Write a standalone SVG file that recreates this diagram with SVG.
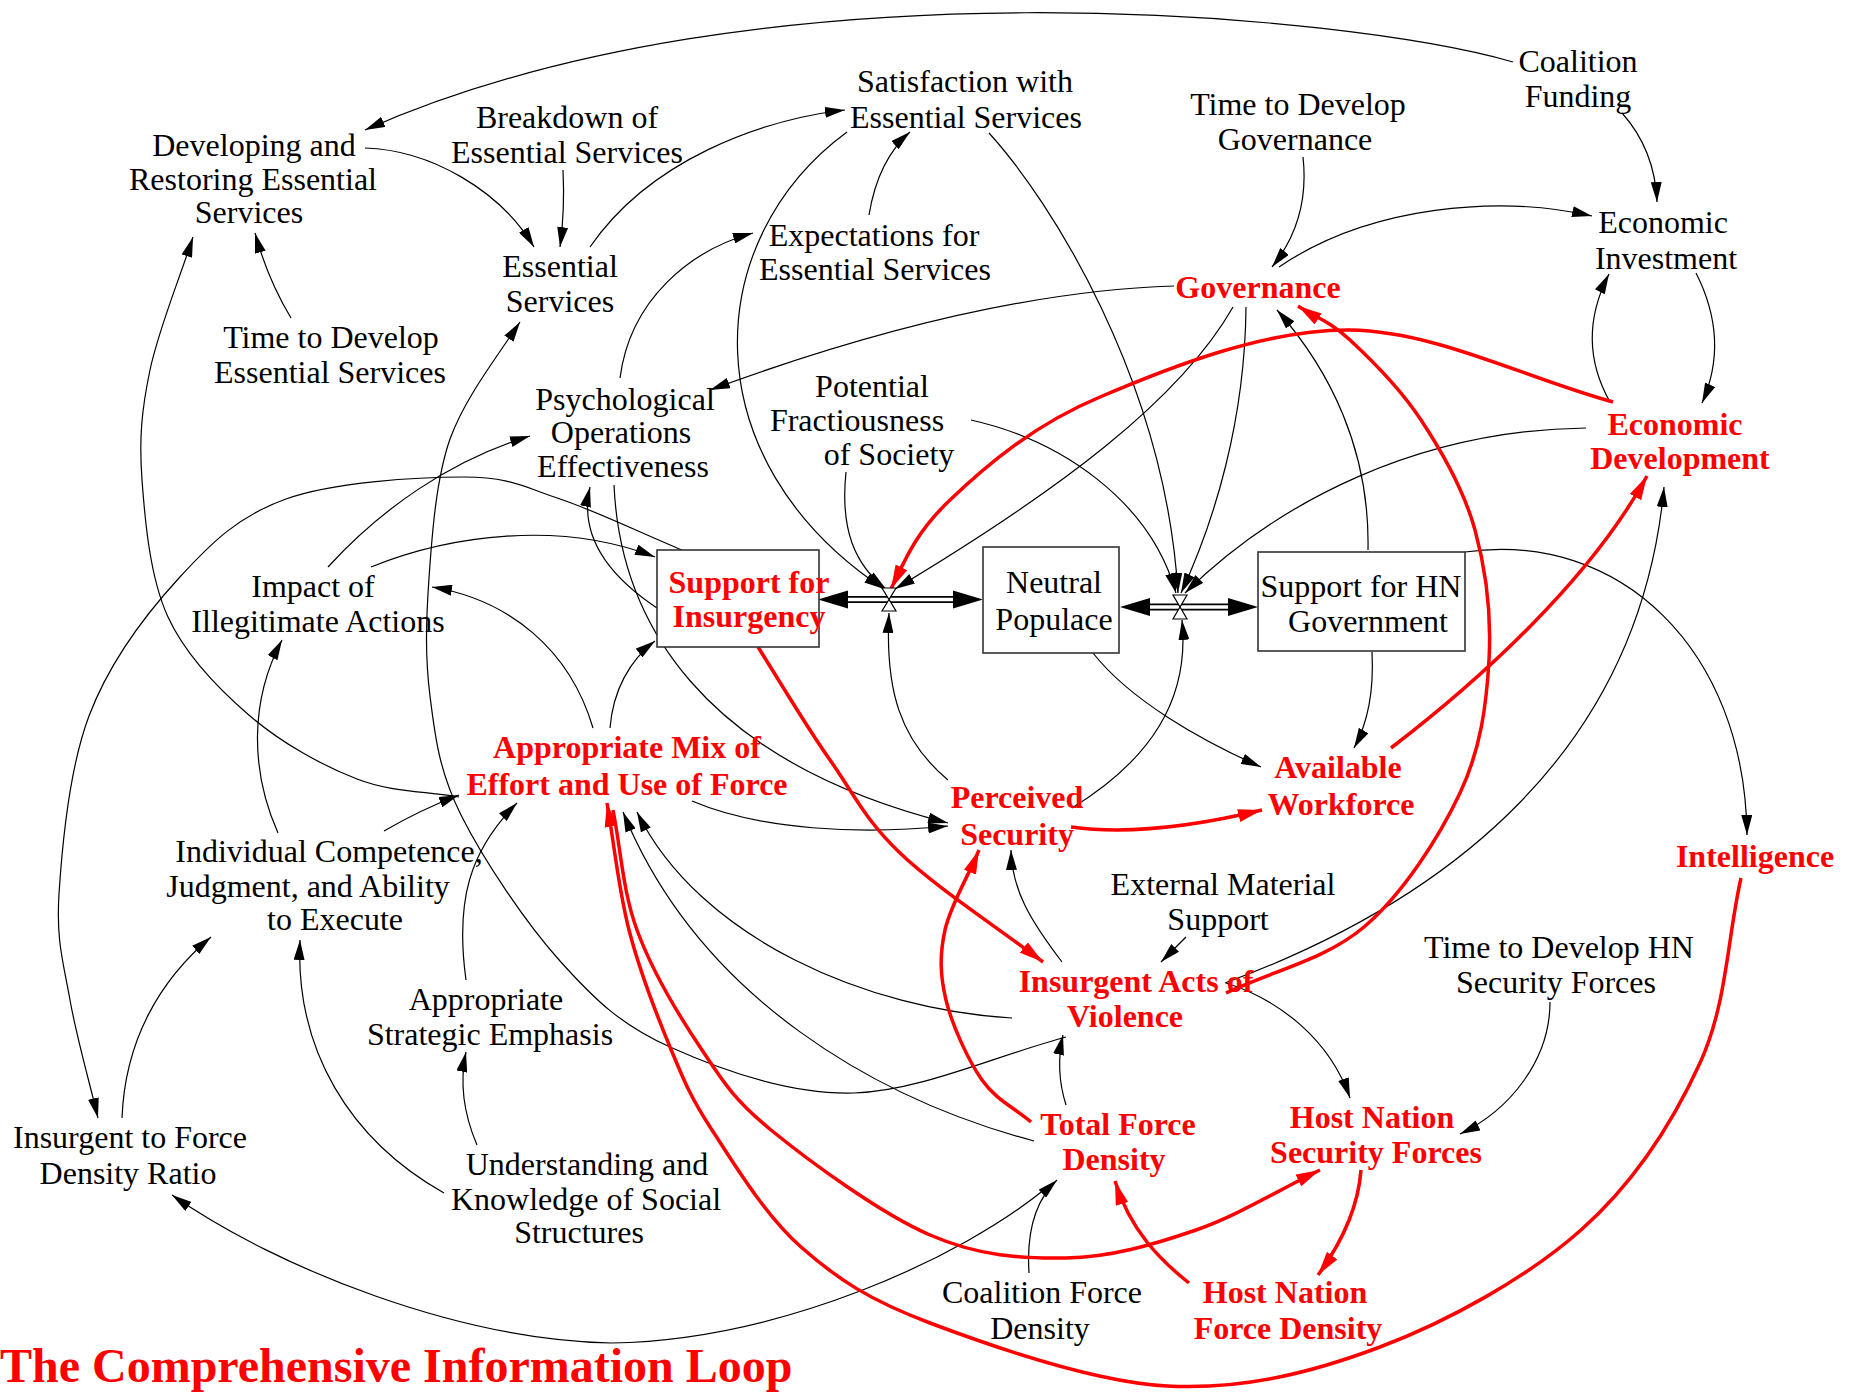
<svg xmlns="http://www.w3.org/2000/svg" width="1858" height="1394" viewBox="0 0 1858 1394">
<defs>
<style>
.t{font-family:'Liberation Serif','Times New Roman',serif;font-size:32px;fill:#000;text-anchor:middle}
.r{font-weight:bold;fill:#f00}
.ttl{font-family:'Liberation Serif','Times New Roman',serif;font-size:48px;font-weight:bold;fill:#f00}
.c{fill:none;stroke:#000;stroke-width:1.2;marker-end:url(#ab)}
.cr{fill:none;stroke:#f00;stroke-width:3.5;marker-end:url(#ar)}
.box{fill:#fff;stroke:#333;stroke-width:1.6}
.pipe{stroke:#000;stroke-width:7}
.pipein{stroke:#fff;stroke-width:3.6}
.valve{fill:#fff;stroke:#000;stroke-width:1.2}
</style>
<marker id="ab" viewBox="0 0 20 11" refX="20" refY="5.5" markerWidth="20" markerHeight="11" markerUnits="userSpaceOnUse" orient="auto"><path d="M0,0 L20,5.5 L0,11 z" fill="#000"/></marker>
<marker id="ar" viewBox="0 0 24 13" refX="24" refY="6.5" markerWidth="24" markerHeight="13" markerUnits="userSpaceOnUse" orient="auto"><path d="M0,0 L24,6.5 L0,13 z" fill="#f00"/></marker>
</defs>
<rect width="1858" height="1394" fill="#fff"/>

<g id="connectors">
<!-- causal links -->
<path class="c" d="M1513,62 C1350,15 760,-45 365,130"/>
<path class="c" d="M1622,113 Q1655,150 1657,202"/>
<path class="c" d="M365,148 C430,150 500,190 534,247"/>
<path class="c" d="M563,170 Q565,210 560,247"/>
<path class="c" d="M590,247 C650,160 760,120 845,110"/>
<path class="c" d="M869,215 Q878,160 910,132"/>
<path class="c" d="M291,318 Q268,280 255,233"/>
<path class="c" d="M1303,157 Q1310,220 1272,267"/>
<path class="c" d="M1279,267 C1370,205 1500,195 1592,216"/>
<path class="c" d="M1696,273 Q1730,340 1702,403"/>
<path class="c" d="M1610,402 Q1575,340 1609,274"/>
<path class="c" d="M1174,286 C1050,290 900,320 710,390"/>
<path class="c" d="M620,378 C630,300 690,250 753,233"/>
<path class="c" d="M989,133 C1050,200 1165,380 1178,593"/>
<path class="c" d="M847,132 C700,240 690,460 884,589"/>
<path class="c" d="M846,472 C840,530 855,565 886,589"/>
<path class="c" d="M971,420 C1060,440 1150,500 1176,593"/>
<path class="c" d="M1233,307 C1180,400 1060,490 895,589"/>
<path class="c" d="M1246,307 C1245,420 1215,520 1181,593"/>
<path class="c" d="M1368,550 C1370,450 1330,370 1277,310"/>
<path class="c" d="M1586,428 C1420,430 1280,500 1185,593"/>
<path class="c" d="M1465,552 C1620,530 1745,650 1747,835"/>
<path class="c" d="M1372,652 Q1375,710 1354,748"/>
<path class="c" d="M1093,653 C1130,700 1200,740 1261,767"/>
<path class="c" d="M1072,808 C1150,760 1190,700 1182,620"/>
<path class="c" d="M948,780 C900,740 885,690 889,613"/>
<path class="c" d="M1062,962 C1030,920 1012,890 1011,850"/>
<path class="c" d="M1186,937 L1161,962"/>
<path class="c" d="M1226,983 C1280,1000 1330,1040 1350,1098"/>
<path class="c" d="M1550,1002 C1550,1060 1510,1110 1460,1134"/>
<path class="c" d="M1225,983 C1450,900 1640,750 1664,487"/>
<path class="c" d="M1012,1018 C870,1010 700,940 637,812"/>
<path class="c" d="M1034,1141 C880,1100 700,1000 623,812"/>
<path class="c" d="M1066,1105 Q1055,1070 1063,1035"/>
<path class="c" d="M1066,1037 C995,1056 920,1091 854,1093 C788,1095 719,1069 670,1047 C621,1025 595,1000 560,961 C525,922 483,859 461,815 C439,771 435,736 430,696 C425,657 426,621 429,578 C432,535 436,479 450,439 C464.5,399 494,361 520,322"/>
<path class="c" d="M614,485 C620,620 700,760 948,823"/>
<path class="c" d="M692,801 C760,830 860,835 948,826"/>
<path class="c" d="M682,550 C641,533 596,511 560,499 C524,487 510,477 464,477 C418,477 333.5,482 286,499 C238.5,516 212,542 179,578 C146,614 109,663 89,716 C69,769 62,847 59,894 C56,941 63.5,963 70,1000 C76.5,1037 88.7,1079 98,1118"/>
<path class="c" d="M122,1118 C125,1040 160,980 211,937"/>
<path class="c" d="M1050,1185 C960,1260 780,1340 611,1343 C460,1340 280,1270 172,1195"/>
<path class="c" d="M1029,1273 Q1025,1210 1057,1180"/>
<path class="c" d="M278,833 C250,770 250,700 282,640"/>
<path class="c" d="M384,831 Q420,810 459,795"/>
<path class="c" d="M459,797 C425,791 392,792.5 357,779 C322,765.5 281.5,743 250,716 C218.5,689 186,656 168,617 C150,578 145,521 142,480 C139,439 141.5,410.5 150,370 C158.5,329.5 178.7,281 193,237"/>
<path class="c" d="M466,980 C455,900 470,850 517,803"/>
<path class="c" d="M477,1145 C462,1110 460,1080 466,1052"/>
<path class="c" d="M444,1193 C350,1140 295,1050 300,940"/>
<path class="c" d="M328,567 C380,510 450,460 530,436"/>
<path class="c" d="M371,567 C450,535 560,520 655,557"/>
<path class="c" d="M593,728 C570,650 510,600 432,587"/>
<path class="c" d="M610,728 C613,690 630,660 655,641"/>
<path class="c" d="M657,608 C600,570 580,530 590,487"/>

<!-- highlighted loop links -->
<path class="cr" d="M1613,402 C1525,378 1435.5,331 1350,330 C1264.5,329 1166.7,368.7 1100,397 C1033,425 984.5,467 950,500 C915.5,532.7 905,560 891,589"/>
<path class="cr" d="M1391,748 C1480,680 1590,580 1647,476"/>
<path class="cr" d="M1226,993 C1272,971 1325,960 1364,927 C1403,894 1439,837.5 1460,793 C1481,748.5 1486.5,704 1489,660 C1491.5,616 1486,570 1475,530 C1464,490 1442,451.7 1421,420 C1400,388 1370.5,359 1350,340 C1329.5,321 1315,317 1298,306"/>
<path class="cr" d="M758,647 C782,685 806,726 830,760 C854,794 864.5,819 900,853 C935.5,887 995,925.7 1043,962"/>
<path class="cr" d="M1071,827 C1130,835 1200,825 1262,810"/>
<path class="cr" d="M1031,1122 C1014.7,1108 996,1100 982,1080 C968,1060 952,1025 946,1000 C940,975 939.5,955 945,930 C950.5,905 968,877 979,850"/>
<path class="cr" d="M1741,878 C1727,940 1727,1004 1700,1063 C1673,1122 1634,1183 1581,1230 C1528,1277 1449,1321 1380,1347 C1311,1373 1242,1390 1167,1386 C1092,1382 991,1346 930,1323 C869,1300 837.3,1279 801,1247 C764.7,1215 733.8,1163.3 712,1130 C690.2,1096.7 683.8,1080.3 670,1047 C656.2,1013.7 639.5,970.7 629,930 C618.5,889.3 614.3,845.3 607,803"/>
<path class="cr" d="M613,810 C621,850 622.5,890.5 637,930 C651.5,969.5 677.7,1013.7 700,1047 C722.3,1080.3 732.7,1098.7 771,1130 C809.3,1161.3 880.8,1213.7 930,1235 C979.2,1256.3 1021.7,1258.8 1066,1258 C1110.3,1257.2 1153.7,1244.7 1196,1230 C1238.3,1215.3 1278.7,1190 1320,1170"/>
<path class="cr" d="M1361,1170 C1358,1210 1340,1245 1318,1275"/>
<path class="cr" d="M1189,1283 C1160,1260 1130,1230 1115,1181"/>

<!-- flows with valves -->
<g id="flow-insurgency">
<line class="pipe" x1="840" y1="599.5" x2="960" y2="599.5"/>
<line class="pipein" x1="840" y1="599.5" x2="960" y2="599.5"/>
<polygon points="818,599.5 848,590.5 848,608.5" fill="#000"/>
<polygon points="983,599.5 953,590.5 953,608.5" fill="#000"/>
<path class="valve" d="M882,588 L896,588 L889,599.5 Z M889,599.5 L882,611 L896,611 Z"/>
</g>
<g id="flow-government">
<line class="pipe" x1="1140" y1="607" x2="1236" y2="607"/>
<line class="pipein" x1="1140" y1="607" x2="1236" y2="607"/>
<polygon points="1120,607 1150,598 1150,616" fill="#000"/>
<polygon points="1258,607 1228,598 1228,616" fill="#000"/>
<path class="valve" d="M1173,595 L1187,595 L1180,607 Z M1180,607 L1173,619 L1187,619 Z"/>
</g>
</g>

<g id="support-insurgency"><rect class="box" x="657" y="550" width="162" height="97"/><text class="t r" x="749" y="593">Support for</text><text class="t r" x="749" y="627">Insurgency</text></g>
<g id="neutral-populace"><rect class="box" x="983" y="547" width="136" height="106"/><text class="t" x="1054" y="593">Neutral</text><text class="t" x="1054" y="630">Populace</text></g>
<g id="support-hn-government"><rect class="box" x="1258" y="552" width="207" height="99"/><text class="t" x="1361" y="597">Support for HN</text><text class="t" x="1368" y="632">Government</text></g>

<g id="coalition-funding"><text class="t" x="1578" y="72">Coalition</text><text class="t" x="1578" y="107">Funding</text></g>
<g id="developing-restoring"><text class="t" x="254" y="156">Developing and</text><text class="t" x="253" y="190">Restoring Essential</text><text class="t" x="249" y="223">Services</text></g>
<g id="breakdown-services"><text class="t" x="567" y="128">Breakdown of</text><text class="t" x="567" y="163">Essential Services</text></g>
<g id="satisfaction-services"><text class="t" x="965" y="92">Satisfaction with</text><text class="t" x="966" y="128">Essential Services</text></g>
<g id="time-governance"><text class="t" x="1298" y="115">Time to Develop</text><text class="t" x="1295" y="150">Governance</text></g>
<g id="economic-investment"><text class="t" x="1663" y="233">Economic</text><text class="t" x="1666" y="269">Investment</text></g>
<g id="essential-services"><text class="t" x="560" y="277">Essential</text><text class="t" x="560" y="312">Services</text></g>
<g id="expectations-services"><text class="t" x="874" y="246">Expectations for</text><text class="t" x="875" y="280">Essential Services</text></g>
<g id="governance"><text class="t r" x="1258" y="298">Governance</text></g>
<g id="time-essential-services"><text class="t" x="331" y="348">Time to Develop</text><text class="t" x="330" y="383">Essential Services</text></g>
<g id="psyops"><text class="t" x="625" y="410">Psychological</text><text class="t" x="621" y="443">Operations</text><text class="t" x="623" y="477">Effectiveness</text></g>
<g id="fractiousness"><text class="t" x="872" y="397">Potential</text><text class="t" x="857" y="431">Fractiousness</text><text class="t" x="889" y="465">of Society</text></g>
<g id="economic-development"><text class="t r" x="1675" y="435">Economic</text><text class="t r" x="1680" y="469">Development</text></g>
<g id="impact-illegitimate"><text class="t" x="313" y="597">Impact of</text><text class="t" x="318" y="632">Illegitimate Actions</text></g>
<g id="appropriate-mix"><text class="t r" x="627" y="758">Appropriate Mix of</text><text class="t r" x="627" y="795">Effort and Use of Force</text></g>
<g id="perceived-security"><text class="t r" x="1017" y="808">Perceived</text><text class="t r" x="1017" y="845">Security</text></g>
<g id="available-workforce"><text class="t r" x="1338" y="778">Available</text><text class="t r" x="1341" y="815">Workforce</text></g>
<g id="intelligence"><text class="t r" x="1755" y="867">Intelligence</text></g>
<g id="individual-competence"><text class="t" x="329" y="862">Individual Competence,</text><text class="t" x="308" y="897">Judgment, and Ability</text><text class="t" x="335" y="930">to Execute</text></g>
<g id="external-support"><text class="t" x="1223" y="895">External Material</text><text class="t" x="1218" y="930">Support</text></g>
<g id="time-hn-security"><text class="t" x="1559" y="958">Time to Develop HN</text><text class="t" x="1556" y="993">Security Forces</text></g>
<g id="insurgent-violence"><text class="t r" x="1136" y="992">Insurgent Acts of</text><text class="t r" x="1125" y="1027">Violence</text></g>
<g id="strategic-emphasis"><text class="t" x="486" y="1010">Appropriate</text><text class="t" x="490" y="1045">Strategic Emphasis</text></g>
<g id="total-force-density"><text class="t r" x="1118" y="1135">Total Force</text><text class="t r" x="1114" y="1170">Density</text></g>
<g id="hn-security-forces"><text class="t r" x="1372" y="1128">Host Nation</text><text class="t r" x="1376" y="1163">Security Forces</text></g>
<g id="insurgent-force-ratio"><text class="t" x="130" y="1148">Insurgent to Force</text><text class="t" x="128" y="1184">Density Ratio</text></g>
<g id="social-structures"><text class="t" x="587" y="1175">Understanding and</text><text class="t" x="586" y="1210">Knowledge of Social</text><text class="t" x="579" y="1243">Structures</text></g>
<g id="coalition-force-density"><text class="t" x="1042" y="1303">Coalition Force</text><text class="t" x="1040" y="1339">Density</text></g>
<g id="hn-force-density"><text class="t r" x="1285" y="1303">Host Nation</text><text class="t r" x="1288" y="1339">Force Density</text></g>

<g id="title"><text class="ttl" x="0" y="1382">The Comprehensive Information Loop</text></g>
</svg>
